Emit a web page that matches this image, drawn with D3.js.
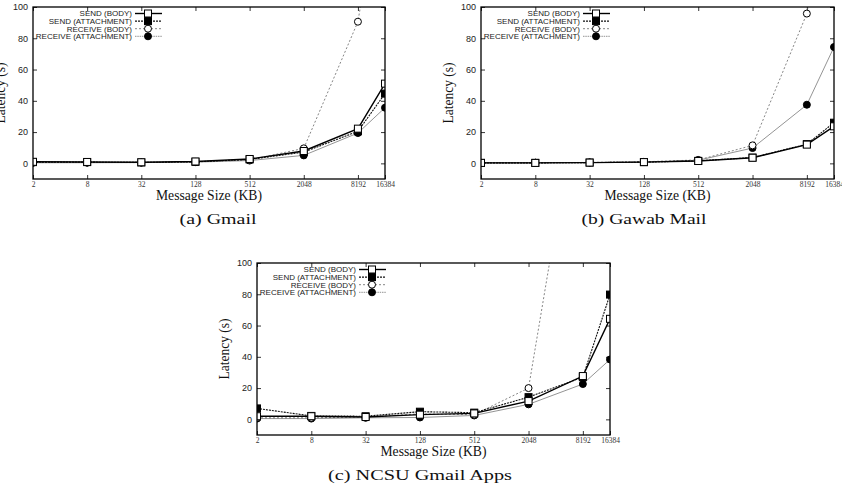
<!DOCTYPE html>
<html><head><meta charset="utf-8">
<script src="https://cdn.jsdelivr.net/npm/d3@7"></script>
<style>
html,body{margin:0;padding:0;background:#fff;}
svg{display:block;}
</style></head>
<body>
<svg id="c" width="842" height="484"></svg>
<script>
// ---- data ----
const sizes = [2, 8, 32, 128, 512, 2048, 8192, 16384];
const sizeLabels = ["2", "8", "32", "128", "512", "2048", "8192", "16384"];
const yTicks = [0, 20, 40, 60, 80, 100];
const seriesNames = ["SEND (BODY)", "SEND (ATTACHMENT)", "RECEIVE (BODY)", "RECEIVE (ATTACHMENT)"];

const gmailSendBody = [1.0, 0.9, 0.7, 1.2, 2.8, 7.9, 22.2, 51.0];
const gmailSendAtt  = [0.8, 0.8, 0.6, 1.0, 2.5, 7.2, 20.5, 44.6];
const gmailRecvBody = [0.5, 0.6, 0.5, 0.9, 2.2, 9.6, 90.6, 195];
const gmailRecvAtt  = [0.4, 0.4, 0.5, 0.8, 1.8, 5.1, 19.4, 35.6];

const gawabSendBody = [0.3, 0.3, 0.5, 0.8, 1.5, 3.6, 12.0, 23.7];
const gawabSendAtt  = [0.3, 0.3, 0.5, 0.8, 1.6, 3.7, 12.3, 26.0];
const gawabRecvBody = [0.4, 0.4, 0.6, 1.0, 2.2, 11.5, 95.8, 200];
const gawabRecvAtt  = [0.3, 0.4, 0.5, 0.9, 2.0, 9.8, 37.5, 74.4];

const ncsuSendBody = [2.0, 2.0, 1.5, 3.0, 3.8, 11.7, 27.7, 64.3];
const ncsuSendAtt  = [7.0, 2.2, 2.0, 4.9, 4.3, 14.2, 27.0, 79.8];
const ncsuRecvBody = [1.0, 1.0, 1.5, 3.5, 3.0, 20.0, 227, 400];
const ncsuRecvAtt  = [0.5, 0.5, 1.0, 1.2, 2.5, 9.6, 22.6, 38.3];

const captions = ["(a) Gmail", "(b) Gawab Mail", "(c) NCSU Gmail Apps"];

// ---- layout / styles ----
const panels = [
  {left: 33, right: 385, top: 7, bottom: 179, series: [gmailSendBody, gmailSendAtt, gmailRecvBody, gmailRecvAtt],
   caption: captions[0], capX: 218, capW: 77},
  {left: 481, right: 834, top: 7, bottom: 179, series: [gawabSendBody, gawabSendAtt, gawabRecvBody, gawabRecvAtt],
   caption: captions[1], capX: 644, capW: 125},
  {left: 257, right: 610, top: 263, bottom: 435, series: [ncsuSendBody, ncsuSendAtt, ncsuRecvBody, ncsuRecvAtt],
   caption: captions[2], capX: 420, capW: 184}
];
const styles = [
  {stroke: "#000", width: 1.4, dash: null, marker: "square", fill: "#fff"},
  {stroke: "#111", width: 1.1, dash: "2,1", marker: "square", fill: "#000"},
  {stroke: "#666", width: 0.8, dash: "2,2", marker: "circle", fill: "#fff"},
  {stroke: "#888", width: 0.9, dash: null, marker: "circle", fill: "#000"}
];
const drawOrder = [3, 2, 1, 0];

const svg = d3.select("#c");
const serif = "'Liberation Serif','Times New Roman',serif";
const sans = "'Liberation Sans',Arial,sans-serif";

panels.forEach((p, pi) => {
  const x = d3.scaleLog().base(2).domain([2, 16384]).range([p.left, p.right]);
  const y = d3.scaleLinear().domain([-10, 100]).range([p.bottom, p.top]);
  const g = svg.append("g");
  const clipId = "clip" + pi;
  svg.append("clipPath").attr("id", clipId).append("rect")
    .attr("x", p.left).attr("y", p.top).attr("width", p.right - p.left).attr("height", p.bottom - p.top);

  // axes (inner ticks, mirrored)
  const axL = d3.axisLeft(y).tickValues(yTicks).tickSize(-4).tickPadding(5).tickFormat(d3.format("d"));
  const gl = g.append("g").attr("transform", `translate(${p.left},0)`).call(axL);
  gl.selectAll("text").attr("font-family", sans).attr("font-size", 9).attr("fill", "#222");
  const axR = d3.axisRight(y).tickValues(yTicks).tickSize(-4).tickFormat("");
  g.append("g").attr("transform", `translate(${p.right},0)`).call(axR);
  const axB = d3.axisBottom(x).tickValues(sizes).tickSize(-4).tickPadding(3).tickFormat((d, i) => sizeLabels[i]);
  const gb = g.append("g").attr("transform", `translate(0,${p.bottom})`).call(axB);
  gb.selectAll("text").attr("font-family", serif).attr("font-size", 7.5).attr("fill", "#333");
  const axT = d3.axisTop(x).tickValues(sizes).tickSize(-4).tickFormat("");
  g.append("g").attr("transform", `translate(0,${p.top})`).call(axT);
  g.selectAll(".domain").remove();
  g.selectAll(".tick line").attr("stroke", "#000").attr("stroke-width", 0.8);

  // series
  const line = d3.line().x((d, i) => x(sizes[i])).y(d => y(d));
  const plot = g.append("g").attr("clip-path", `url(#${clipId})`);
  drawOrder.forEach(si => {
    const st = styles[si], vals = p.series[si];
    plot.append("path").datum(vals).attr("d", line).attr("fill", "none")
      .attr("stroke", st.stroke).attr("stroke-width", st.width)
      .attr("stroke-dasharray", st.dash);
  });
  drawOrder.forEach(si => {
    const st = styles[si], vals = p.series[si];
    const pts = vals.map((v, i) => ({x: x(sizes[i]), y: y(v)})).filter(d => d.y >= p.top - 1);
    drawMarkers(plot, pts, st);
  });

  // frame
  g.append("rect").attr("x", p.left).attr("y", p.top).attr("width", p.right - p.left).attr("height", p.bottom - p.top)
    .attr("fill", "none").attr("stroke", "#000").attr("stroke-width", 1.3);

  // legend
  const lx = p.left + 99;
  const ly0 = p.top + 6.5, dy = 7.6;
  seriesNames.forEach((name, si) => {
    const st = styles[si], yy = ly0 + si * dy;
    g.append("text").attr("x", lx).attr("y", yy).attr("dy", "0.35em").attr("text-anchor", "end")
      .attr("font-family", sans).attr("font-size", 8).attr("fill", "#222").text(name);
    g.append("line").attr("x1", lx + 3).attr("x2", lx + 30).attr("y1", yy).attr("y2", yy)
      .attr("stroke", st.stroke).attr("stroke-width", st.width).attr("stroke-dasharray", st.dash || (si === 3 ? "1.5,0.8" : null));
    drawMarkers(g, [{x: lx + 16, y: yy}], st);
  });

  // axis titles
  const cx = (p.left + p.right) / 2, cy = (p.top + p.bottom) / 2;
  g.append("text").attr("transform", `translate(${p.left - 28},${cy}) rotate(-90)`)
    .attr("text-anchor", "middle").attr("font-family", serif).attr("font-size", 14).attr("fill", "#111")
    .attr("textLength", 61).attr("lengthAdjust", "spacingAndGlyphs").text("Latency (s)");
  g.append("text").attr("x", cx).attr("y", p.bottom + 21).attr("text-anchor", "middle")
    .attr("font-family", serif).attr("font-size", 14).attr("fill", "#111")
    .attr("textLength", 106).attr("lengthAdjust", "spacingAndGlyphs").text("Message Size (KB)");
  g.append("text").attr("x", p.capX).attr("y", p.bottom + 45).attr("text-anchor", "middle")
    .attr("font-family", serif).attr("font-size", 15).attr("fill", "#111")
    .attr("textLength", p.capW).attr("lengthAdjust", "spacingAndGlyphs").text(p.caption);
});

function drawMarkers(sel, pts, st) {
  pts.forEach(d => {
    if (st.marker === "square") {
      sel.append("rect").attr("x", d.x - 3.5).attr("y", d.y - 3.5).attr("width", 7).attr("height", 7)
        .attr("fill", st.fill).attr("stroke", "#000").attr("stroke-width", 1);
    } else {
      sel.append("circle").attr("cx", d.x).attr("cy", d.y).attr("r", 3.5)
        .attr("fill", st.fill).attr("stroke", "#000").attr("stroke-width", 1);
    }
  });
}
</script>
</body></html>
